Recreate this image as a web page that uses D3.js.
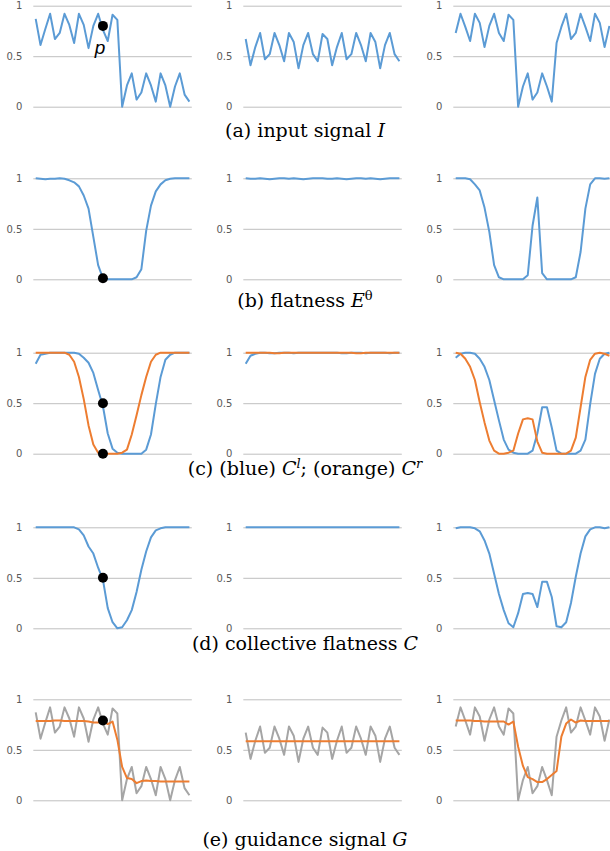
<!DOCTYPE html>
<html>
<head>
<meta charset="utf-8">
<script src="https://cdn.jsdelivr.net/npm/d3@7"></script>
<style>
  body { margin: 0; background: #fff; }
  svg { display: block; }
  .tick text { font-family: "DejaVu Sans", sans-serif; font-size: 10px; fill: #595959; }
</style>
</head>
<body>
<svg width="610" height="851"></svg>
<script>
// 33 samples per panel
const yTicks = [0, 0.5, 1]

// (a) input signal I
const inputL = [0.87, 0.61, 0.77, 0.92, 0.67, 0.73, 0.92, 0.81, 0.63, 0.92, 0.81, 0.58, 0.80, 0.92, 0.76, 0.65, 0.91, 0.86, 0.0, 0.21, 0.33, 0.07, 0.14, 0.33, 0.21, 0.05, 0.33, 0.21, 0.0, 0.2, 0.33, 0.12, 0.05]
const inputM = [0.67, 0.41, 0.59, 0.73, 0.47, 0.52, 0.73, 0.61, 0.45, 0.73, 0.64, 0.38, 0.61, 0.73, 0.52, 0.45, 0.72, 0.67, 0.41, 0.59, 0.73, 0.47, 0.52, 0.73, 0.61, 0.45, 0.73, 0.64, 0.38, 0.61, 0.73, 0.52, 0.45]
const inputR = [0.73, 0.92, 0.79, 0.65, 0.92, 0.83, 0.59, 0.80, 0.92, 0.73, 0.65, 0.91, 0.86, 0.0, 0.2, 0.33, 0.07, 0.14, 0.33, 0.2, 0.05, 0.63, 0.79, 0.92, 0.67, 0.73, 0.92, 0.79, 0.65, 0.92, 0.83, 0.59, 0.80]

// (b) flatness
const flatL = [1, 0.995, 0.99, 0.995, 0.995, 1, 0.995, 0.98, 0.96, 0.92, 0.83, 0.70, 0.42, 0.14, 0.01, 0, 0, 0, 0, 0, 0, 0.02, 0.1, 0.48, 0.73, 0.87, 0.94, 0.98, 0.995, 1, 1, 1, 1]
const flatM = [1, 0.995, 0.995, 1, 0.995, 0.99, 0.995, 1, 1, 0.995, 1, 0.995, 0.99, 0.995, 1, 1, 1, 0.995, 0.995, 1, 0.995, 0.99, 0.995, 1, 1, 0.995, 1, 0.995, 0.99, 0.995, 1, 1, 1]
const flatR = [1, 1, 1, 0.99, 0.94, 0.88, 0.71, 0.47, 0.14, 0.02, 0, 0, 0, 0, 0, 0.04, 0.53, 0.81, 0.06, 0, 0, 0, 0, 0, 0, 0.02, 0.27, 0.70, 0.94, 1, 1, 0.995, 1]

// (c) left / right
const cLeftL = [0.89, 0.98, 0.99, 1, 1, 1, 1, 1, 1, 0.99, 0.95, 0.9, 0.8, 0.63, 0.47, 0.2, 0.05, 0.01, 0, 0, 0, 0, 0, 0.04, 0.19, 0.49, 0.76, 0.93, 0.98, 1, 1, 1, 1]
const cRightL = [1, 1, 1, 1, 1, 1, 1, 0.98, 0.91, 0.76, 0.54, 0.28, 0.09, 0.01, 0, 0, 0, 0, 0.01, 0.04, 0.19, 0.38, 0.58, 0.76, 0.91, 0.98, 1, 1, 1, 1, 1, 1, 1]
const cLeftM = [0.89, 0.97, 0.99, 1, 1, 0.995, 0.995, 1, 1, 1, 0.995, 1, 1, 1, 1, 1, 1, 1, 1, 1, 0.995, 0.995, 1, 1, 1, 0.995, 1, 1, 1, 1, 0.995, 1, 1]
const cRightM = [1, 1, 1, 1, 1, 1, 0.995, 0.995, 1, 1, 1, 1, 1, 1, 1, 1, 1, 1, 1, 1, 1, 1, 1, 0.995, 0.995, 1, 1, 1, 1, 1, 1, 1, 1]
const cLeftR = [0.95, 0.99, 1, 1, 0.99, 0.94, 0.86, 0.73, 0.53, 0.33, 0.14, 0.04, 0.01, 0, 0, 0, 0.03, 0.2, 0.46, 0.46, 0.26, 0.03, 0, 0, 0, 0, 0.03, 0.14, 0.49, 0.79, 0.94, 0.99, 1]
const cRightR = [1, 0.99, 0.94, 0.86, 0.73, 0.51, 0.31, 0.13, 0.03, 0, 0, 0.01, 0.03, 0.2, 0.34, 0.35, 0.34, 0.12, 0.01, 0, 0, 0, 0, 0, 0.03, 0.16, 0.46, 0.76, 0.93, 0.99, 1, 0.99, 0.97]

// (d) collective flatness
const collL = [1, 1, 1, 1, 1, 1, 1, 1, 1, 0.98, 0.92, 0.81, 0.74, 0.6, 0.48, 0.2, 0.06, 0, 0.01, 0.08, 0.18, 0.36, 0.58, 0.76, 0.9, 0.97, 0.99, 1, 1, 1, 1, 1, 1]
const collM = [1, 1, 1, 1, 1, 1, 1, 1, 1, 1, 1, 1, 1, 1, 1, 1, 1, 1, 1, 1, 1, 1, 1, 1, 1, 1, 1, 1, 1, 1, 1, 1, 1]
const collR = [0.99, 1, 1, 1, 0.99, 0.96, 0.87, 0.74, 0.54, 0.34, 0.18, 0.05, 0.01, 0.15, 0.34, 0.35, 0.34, 0.21, 0.46, 0.46, 0.31, 0.02, 0.01, 0.06, 0.25, 0.51, 0.74, 0.91, 0.98, 1, 1, 0.99, 1]

// (e) guidance signal
const guideL = [0.785, 0.785, 0.785, 0.785, 0.79, 0.79, 0.785, 0.785, 0.785, 0.785, 0.785, 0.78, 0.77, 0.77, 0.785, 0.755, 0.78, 0.6, 0.33, 0.22, 0.21, 0.17, 0.19, 0.195, 0.19, 0.19, 0.185, 0.185, 0.185, 0.185, 0.185, 0.185, 0.185]
const guideM = [0.585, 0.585, 0.585, 0.585, 0.585, 0.585, 0.585, 0.585, 0.585, 0.585, 0.585, 0.585, 0.585, 0.585, 0.585, 0.585, 0.585, 0.585, 0.585, 0.585, 0.585, 0.585, 0.585, 0.585, 0.585, 0.585, 0.585, 0.585, 0.585, 0.585, 0.585, 0.585, 0.585]
const guideR = [0.79, 0.79, 0.79, 0.79, 0.785, 0.785, 0.78, 0.78, 0.78, 0.78, 0.78, 0.75, 0.78, 0.53, 0.34, 0.23, 0.21, 0.18, 0.18, 0.21, 0.25, 0.29, 0.63, 0.76, 0.8, 0.77, 0.79, 0.785, 0.785, 0.785, 0.785, 0.785, 0.785]

// marked point p: [row, sample index, value]
const markers = [[0, 14, 0.8], [1, 14, 0.01], [2, 14, 0.5], [2, 14, 0], [3, 14, 0.5], [4, 14, 0.79]]

const blue = "#5b9bd5", orange = "#ed7d31", gray = "#a5a5a5"

const rows = [
  [[[inputL, blue]], [[inputM, blue]], [[inputR, blue]]],
  [[[flatL, blue]], [[flatM, blue]], [[flatR, blue]]],
  [[[cLeftL, blue], [cRightL, orange]], [[cLeftM, blue], [cRightM, orange]], [[cLeftR, blue], [cRightR, orange]]],
  [[[collL, blue]], [[collM, blue]], [[collR, blue]]],
  [[[inputL, gray], [guideL, orange]], [[inputM, gray], [guideM, orange]], [[inputR, gray], [guideR, orange]]],
]

let rowTop = [5.7, 178.3, 352.7, 527.3, 699.3]
let colLeft = [33.3, 243.3, 453.3]
let plotW = 158.5
let plotH = 101

let svg = d3.select("svg")

const x = d3.scalePoint().domain(d3.range(33)).range([0, plotW]).padding(0.5)
const y = d3.scaleLinear().domain([0, 1]).range([plotH, 0])

rows.forEach((row, r) => {
  row.forEach((panel, c) => {
    let g = svg.append("g").attr("transform", `translate(${colLeft[c]},${rowTop[r]})`)

    let axis = g.append("g")
      .call(d3.axisLeft(y).tickValues(yTicks).tickSize(-plotW).tickPadding(11).tickFormat(d3.format("~g")))
    axis.select(".domain").remove()
    axis.selectAll(".tick line").attr("stroke", "#bfbfbf").attr("stroke-width", 1)

    let line = d3.line().x((d, i) => x(i)).y(d => y(d))
    panel.forEach(([values, color]) => {
      g.append("path")
        .datum(values)
        .attr("d", line)
        .attr("fill", "none")
        .attr("stroke", color)
        .attr("stroke-width", 2)
        .attr("stroke-linejoin", "round")
    })

    if (c === 0) {
      markers.filter(m => m[0] === r).forEach(m => {
        g.append("circle")
          .attr("cx", x(m[1]))
          .attr("cy", y(m[2]))
          .attr("r", 5)
          .attr("fill", "#000")
      })
    }
  })
})

// label for p
svg.append("text")
  .attr("x", 100)
  .attr("y", 54)
  .attr("text-anchor", "middle")
  .style("font-family", "'Liberation Sans', Arial, sans-serif")
  .style("font-style", "italic")
  .style("font-size", "19px")
  .text("p")

// captions (only DejaVu Serif resolves as a serif face here)
function caption(yPos, parts) {
  let t = svg.append("text")
    .attr("x", 305)
    .attr("y", yPos)
    .attr("text-anchor", "middle")
    .style("font-family", "'DejaVu Serif', serif")
    .style("font-size", "19px")
    .attr("fill", "#000")
  parts.forEach(p => {
    let s = t.append("tspan").text(p.t)
    if (p.i) s.style("font-style", "italic")
    if (p.sup) s.attr("baseline-shift", "super").style("font-size", "13px")
  })
}

caption(137, [{t: "(a) input signal "}, {t: "I", i: true}])
caption(307, [{t: "(b) flatness "}, {t: "E", i: true}, {t: "θ", sup: true}])
caption(475, [{t: "(c) (blue) "}, {t: "C", i: true}, {t: "l", i: true, sup: true}, {t: "; (orange) "}, {t: "C", i: true}, {t: "r", i: true, sup: true}])
caption(650, [{t: "(d) collective flatness "}, {t: "C", i: true}])
caption(846, [{t: "(e) guidance signal "}, {t: "G", i: true}])
</script>
</body>
</html>
